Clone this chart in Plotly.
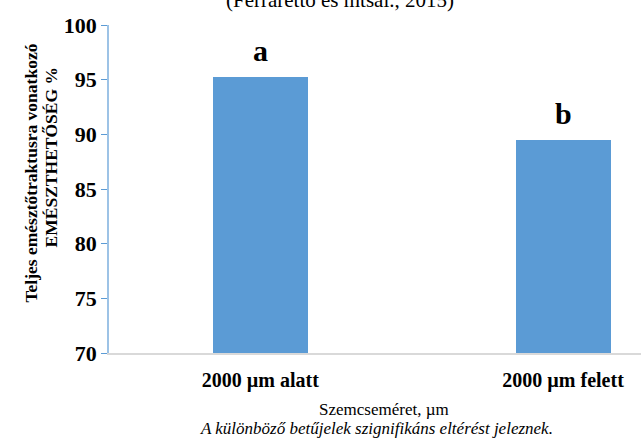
import plotly.graph_objects as go

categories = ["2000 µm alatt", "2000 µm felett"]
values = [95.2, 89.5]
letters = ["a", "b"]
y_ticks = [70, 75, 80, 85, 90, 95, 100]

SERIF = "Liberation Serif, Times New Roman, serif"
BAR = "#5B9BD5"

fig = go.Figure()
fig.add_trace(go.Bar(
    x=[0, 1], y=values, width=0.314, marker=dict(color=BAR, line=dict(width=0)),
    hoverinfo="skip", showlegend=False,
))

annotations = []
for i, (v, l) in enumerate(zip(values, letters)):
    annotations.append(dict(x=i, y=v, xref="x", yref="y", text=l, showarrow=False,
                            yanchor="bottom", yshift=8,
                            font=dict(family=SERIF, size=30, color="black", weight="bold")))

annotations += [
    dict(x=0.4347, y=1, xref="paper", yref="paper", yanchor="middle", yshift=25,
         text="(Ferraretto és mtsai., 2015)", showarrow=False,
         font=dict(family=SERIF, size=21, color="black")),
    dict(x=-0.170, y=0.549, xref="paper", yref="paper", textangle=-90,
         text="Teljes emésztőtraktusra vonatkozó", showarrow=False,
         font=dict(family=SERIF, size=17.5, color="black", weight="bold")),
    dict(x=-0.1324, y=0.595, xref="paper", yref="paper", textangle=-90,
         text="EMÉSZTHETŐSÉG %", showarrow=False,
         font=dict(family=SERIF, size=17.5, color="black", weight="bold")),
    dict(x=0.517, y=0, xref="paper", yref="paper", yanchor="top", yshift=-46,
         text="Szemcseméret, µm", showarrow=False, borderpad=0,
         font=dict(family=SERIF, size=17, color="black")),
    dict(x=0.502, y=0, xref="paper", yref="paper", yanchor="top", yshift=-65,
         text="<i>A különböző betűjelek szignifikáns eltérést jeleznek.</i>", showarrow=False,
         borderpad=0, font=dict(family=SERIF, size=17, color="black")),
]

fig.update_layout(
    width=641, height=442,
    margin=dict(l=108.5, r=0, t=25, b=89),
    plot_bgcolor="white", paper_bgcolor="white",
    bargap=0,
    annotations=annotations,
    xaxis=dict(
        range=[-0.5, -0.5 + 532.5 / 303], tickmode="array", tickvals=[0, 1], ticktext=categories,
        showline=True, linecolor="#D9D9D9", linewidth=2, showgrid=False, zeroline=False,
        ticks="outside", ticklen=8, tickcolor="rgba(0,0,0,0)",
        tickfont=dict(family=SERIF, size=20, color="black", weight="bold"),
    ),
    yaxis=dict(
        range=[70, 100], tickvals=y_ticks, showgrid=False, zeroline=False,
        showline=True, linecolor="#9DC3E6", linewidth=1.5,
        ticks="outside", ticklen=6, tickcolor="#5B9BD5", tickwidth=1,
        tickfont=dict(family=SERIF, size=22, color="black", weight="bold"),
    ),
)

fig.write_html("out.html", config={"displayModeBar": False},
               post_script="document.body.style.margin='0';document.body.style.overflow='hidden';")
